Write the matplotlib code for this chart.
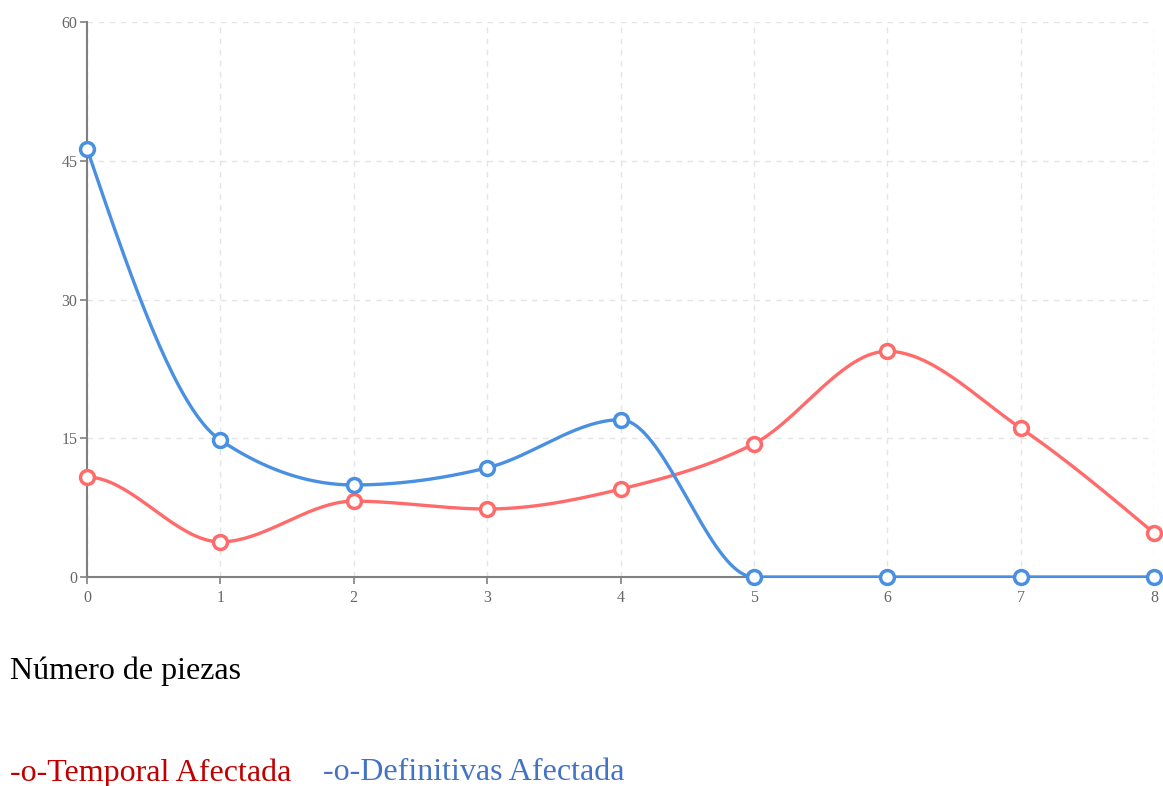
import matplotlib
matplotlib.use("Agg")
import matplotlib.pyplot as plt
import numpy as np

plt.rcParams['font.family'] = ['Liberation Serif', 'DejaVu Serif']

x = [0, 1, 2, 3, 4, 5, 6, 7, 8]
temporal = [10.8, 3.8, 8.2, 7.35, 9.5, 14.4, 24.4, 16.1, 4.75]
definitivas = [46.3, 14.8, 9.95, 11.8, 17.0, 0, 0, 0, 0]

red = '#ff6b6b'
blue = '#4a90e2'


def monotone(xs, ys, n=40):
    # d3 curveMonotoneX style tangents, drawn as cubic hermite segments
    xs = np.asarray(xs, float)
    ys = np.asarray(ys, float)
    k = len(xs)
    t = np.zeros(k)
    for i in range(1, k - 1):
        h0 = xs[i] - xs[i - 1]
        h1 = xs[i + 1] - xs[i]
        s0 = (ys[i] - ys[i - 1]) / h0
        s1 = (ys[i + 1] - ys[i]) / h1
        p = (s0 * h1 + s1 * h0) / (h0 + h1)
        t[i] = (np.sign(s0) + np.sign(s1)) * min(abs(s0), abs(s1), 0.5 * abs(p))
    h = xs[1] - xs[0]
    t[0] = (3 * (ys[1] - ys[0]) / h - t[1]) / 2 if t[1] else t[1]
    h = xs[-1] - xs[-2]
    t[-1] = (3 * (ys[-1] - ys[-2]) / h - t[-2]) / 2 if t[-2] else t[-2]
    px, py = [], []
    for i in range(k - 1):
        dx = xs[i + 1] - xs[i]
        u = np.linspace(0, 1, n)
        h00 = 2 * u**3 - 3 * u**2 + 1
        h10 = u**3 - 2 * u**2 + u
        h01 = -2 * u**3 + 3 * u**2
        h11 = u**3 - u**2
        px.extend(xs[i] + u * dx)
        py.extend(h00 * ys[i] + h10 * dx * t[i] + h01 * ys[i + 1] + h11 * dx * t[i + 1])
    return np.array(px), np.array(py)


fig = plt.figure(figsize=(11.63, 7.86), dpi=100)
ax = fig.add_axes([87 / 1163, 1 - 577 / 786, (1154 - 87) / 1163, (577 - 22) / 786])

for ys, c in [(temporal, red), (definitivas, blue)]:
    cx, cy = monotone(x, ys)
    ax.plot(cx, cy, color=c, lw=2.4, zorder=3, solid_capstyle='round')
    ax.plot(x, ys, ls='', marker='o', ms=10, mfc='white', mec=c, mew=2.5, zorder=4, clip_on=False)

ax.set_xlim(0, 8)
ax.set_ylim(0, 60)
ax.set_xticks(x)
ax.set_yticks([0, 15, 30, 45, 60])
ax.grid(True, ls=(0, (4, 4)), color='#e3e3ea', lw=1)
ax.set_axisbelow(True)
for s in ['top', 'right']:
    ax.spines[s].set_visible(False)
for s in ['left', 'bottom']:
    ax.spines[s].set_color('#808080')
    ax.spines[s].set_linewidth(1.5)
ax.tick_params(colors='#808080', labelcolor='#666666', labelsize=11.5, length=5, width=1.2)
ax.tick_params(axis='x', pad=4)
ax.tick_params(axis='y', pad=2)

fig.text(10 / 1163, 1 - 671 / 786, 'Número de piezas', fontsize=23, color='black', va='center')
fig.text(10 / 1163, 1 - 773 / 786, '-o-Temporal Afectada', fontsize=23, color='#c00000', va='center')
fig.text(323 / 1163, 1 - 773 / 786, '-o-Definitivas Afectada', fontsize=23, color='#4472c4', va='center')

fig.savefig('out.png', dpi=100)
